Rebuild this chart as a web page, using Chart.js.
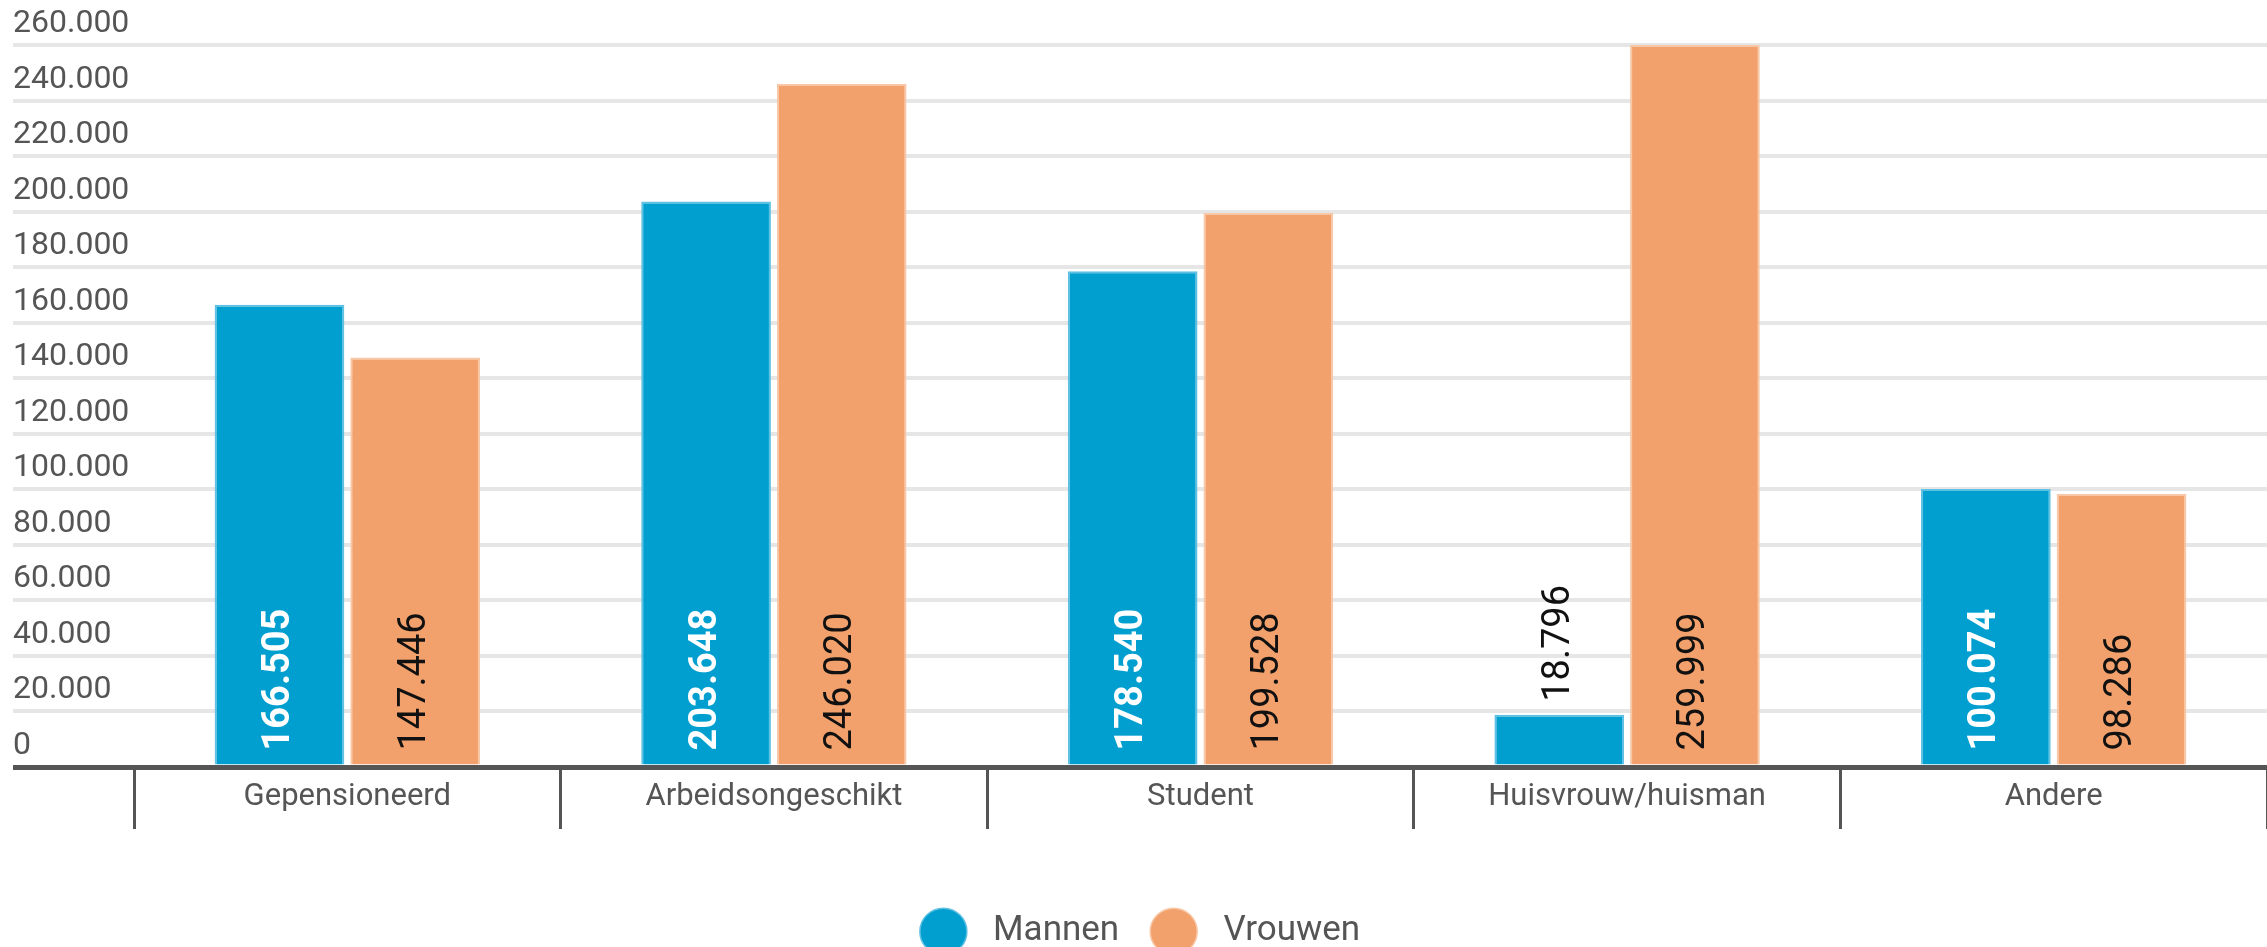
<!DOCTYPE html>
<html>
<head>
<meta charset="utf-8">
<script src="https://cdn.jsdelivr.net/npm/chart.js@4.4.1/dist/chart.umd.min.js"></script>
<style>
  html, body { margin: 0; padding: 0; background: #fff; overflow: hidden; }
  #wrap { position: relative; width: 2267px; height: 947px; }
</style>
</head>
<body>
<div id="wrap"><canvas id="chart"></canvas></div>
<script>
// ── Data ─────────────────────────────────────────────────────────────────────
const categories = ['Gepensioneerd', 'Arbeidsongeschikt', 'Student', 'Huisvrouw/huisman', 'Andere'];
const mannen     = [166505, 203648, 178540, 18796, 100074];
const vrouwen    = [147446, 246020, 199528, 259999, 98286];
const yMax  = 260000;
const yStep = 20000;

const BLUE   = '#009fcf';
const ORANGE = '#f3a16c';

Chart.defaults.font.family = "Roboto, 'Noto Sans', sans-serif";
Chart.defaults.color = '#555';

// 166505 -> "166.505"
function fmt(v) {
  return String(Math.round(v)).replace(/\B(?=(\d{3})+(?!\d))/g, '.');
}

// ── Rotated value labels on the bars ─────────────────────────────────────────
const barLabels = {
  id: 'barLabels',
  afterDatasetsDraw(chart) {
    const ctx = chart.ctx;
    chart.data.datasets.forEach((ds, di) => {
      chart.getDatasetMeta(di).data.forEach((bar, i) => {
        const txt = fmt(ds.data[i]);
        ctx.save();
        ctx.font = (di === 0 ? 'bold ' : '') + '38px Roboto';
        const w = ctx.measureText(txt).width;
        const inside = (bar.base - bar.y) > w + 30;
        if (!inside) ctx.font = '38px Roboto';
        ctx.fillStyle = (inside && di === 0) ? '#fff' : '#111';
        ctx.translate(bar.x, inside ? bar.base - 14 : bar.y - 13);
        ctx.rotate(-Math.PI / 2);
        ctx.textAlign = 'left';
        ctx.textBaseline = 'middle';
        ctx.fillText(txt, 0, 0);
        ctx.restore();
      });
    });
  }
};

// ── Chart ────────────────────────────────────────────────────────────────────
new Chart(document.getElementById('chart'), {
  type: 'bar',
  data: {
    labels: categories,
    datasets: [
      { label: ' Mannen',  data: mannen,  backgroundColor: BLUE,   borderColor: '#5ec0e2',
        borderWidth: { top: 2, left: 2, right: 2, bottom: 0 } },
      { label: ' Vrouwen', data: vrouwen, backgroundColor: ORANGE, borderColor: '#f8c7a6',
        borderWidth: { top: 2, left: 2, right: 2, bottom: 0 } },
    ],
  },
  options: {
    responsive: true,
    maintainAspectRatio: false,
    animation: false,
    categoryPercentage: 0.636,
    barPercentage: 0.956,
    layout: { padding: { left: 13, top: 45, right: 0, bottom: -12 } },
    plugins: {
      tooltip: { enabled: false },
      legend: {
        position: 'bottom',
        labels: {
          usePointStyle: true,
          pointStyle: 'circle',
          boxHeight: 33,
          pointStyleWidth: 47,
          padding: 31,
          color: '#555',
          font: { size: 35 },
        },
      },
    },
    scales: {
      x: {
        grid: { offset: true, drawOnChartArea: false, drawTicks: true, tickLength: 62, color: '#555', lineWidth: 3 },
        border: { color: '#555', width: 5 },
        ticks: { padding: -50, font: { size: 31 }, color: '#555' },
        afterFit: s => { s.height = 116; },
      },
      y: {
        min: 0,
        max: yMax,
        ticks: { stepSize: yStep, callback: v => fmt(v), labelOffset: -21, crossAlign: 'far',
                 padding: 0, font: { size: 32 }, color: '#555' },
        grid: {
          drawTicks: true,
          tickLength: 121,
          color: c => (c.tick && c.tick.value === 0) ? '#555' : '#e6e6e6',
          lineWidth: c => (c.tick && c.tick.value === 0) ? 5 : 4,
        },
        border: { display: false },
        afterFit: s => { s.width = 121; },
      },
    },
  },
  plugins: [barLabels],
});
</script>
</body>
</html>
